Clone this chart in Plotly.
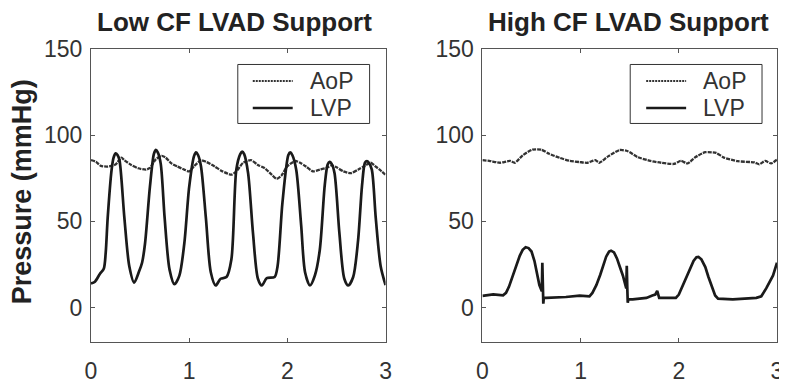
import plotly.graph_objects as go

# ---- Low CF LVAD support ----
t_low_lvp = [0.00, 0.04, 0.09, 0.13, 0.15, 0.17, 0.21, 0.23, 0.25, 0.27, 0.29, 0.34, 0.39, 0.44,
             0.49, 0.52, 0.55, 0.60, 0.64, 0.66, 0.68, 0.71, 0.75, 0.80, 0.85,
             0.90, 0.95, 1.00, 1.05, 1.07, 1.09, 1.12, 1.17, 1.22, 1.27,
             1.32, 1.38, 1.43, 1.48, 1.52, 1.54, 1.56, 1.60, 1.65, 1.70, 1.74,
             1.79, 1.87, 1.90, 1.95, 2.01, 2.03, 2.05, 2.09, 2.14, 2.18, 2.23,
             2.28, 2.33, 2.38, 2.41, 2.43, 2.45, 2.48, 2.53, 2.58, 2.62,
             2.67, 2.72, 2.76, 2.79, 2.81, 2.83, 2.86, 2.90, 2.95, 3.00]
p_low_lvp = [14, 15, 19.5, 22.5, 32, 52, 80, 87, 89.5, 88.5, 85.5, 52, 24, 14.5,
             21, 26, 37, 70, 89, 91.5, 90, 83.5, 52, 22, 13.5,
             18.5, 37, 70, 88, 90, 88.5, 82, 52, 20.5, 12.8,
             16.7, 17.7, 28, 80, 89, 90.5, 89, 78, 43, 16.7, 12.8,
             17, 17.7, 24, 61, 88.5, 90, 88.5, 80, 48, 20.5, 12.8,
             18.6, 33.4, 70.6, 83, 84.5, 83.5, 78, 43, 16.7, 12.8,
             17.7, 39, 70.6, 84, 85, 84, 80, 52, 24, 13]

t_low_aop = [0.00, 0.05, 0.10, 0.17, 0.25, 0.31, 0.34, 0.41, 0.48, 0.56, 0.60, 0.66, 0.72,
             0.76, 0.82, 0.88, 0.95, 1.00, 1.05, 1.12, 1.17, 1.26, 1.34, 1.43, 1.48,
             1.55, 1.63, 1.70, 1.77, 1.84, 1.89, 1.94, 2.00, 2.08, 2.13, 2.19, 2.26,
             2.33, 2.40, 2.45, 2.50, 2.57, 2.65, 2.72, 2.78, 2.85, 2.89, 2.94, 3.00]
p_low_aop = [85.5, 84.6, 82.2, 81.8, 83, 87, 85.5, 82.7, 80.8, 80, 81, 86, 88,
             87, 83.6, 81.8, 80, 79, 82, 85.5, 84.6, 81.8, 79, 77.1, 79,
             84, 85.5, 82.7, 80.8, 77.1, 74.7, 76.6, 82, 85, 84, 81.8, 79,
             80, 81, 82.5, 81.4, 79, 78, 80, 82, 84, 82.2, 80, 77]

# ---- High CF LVAD support ----
t_high_lvp = [0.00, 0.11, 0.21, 0.24, 0.27, 0.30, 0.35, 0.38, 0.41, 0.44, 0.47, 0.50, 0.53,
              0.56, 0.58, 0.605, 0.610, 0.615, 0.620, 0.625, 0.65, 0.85, 0.99, 1.09, 1.12,
              1.16, 1.20, 1.23, 1.26, 1.29, 1.31, 1.34, 1.37, 1.40, 1.43, 1.465, 1.470,
              1.475, 1.480, 1.485, 1.53, 1.67, 1.73, 1.76, 1.78, 1.79, 1.80, 1.87, 1.97,
              2.00, 2.04, 2.08, 2.11, 2.15, 2.18, 2.20, 2.23, 2.27, 2.30, 2.33, 2.37, 2.40,
              2.55, 2.79, 2.84, 2.89, 2.96, 3.00]
p_high_lvp = [6.8, 7.6, 7.1, 8.5, 12, 17, 24.2, 30, 33.5, 35, 34.5, 32.5, 27,
              19, 13, 9.5, 26, 14, 2.2, 5.6, 5.6, 6.1, 6.9, 6.5, 8.5,
              13, 19, 24.2, 29.5, 32.5, 33, 32, 28.5, 23.5, 18.6, 11.1, 24.2,
              12, 2.8, 4.7, 4.7, 5.6, 7.0, 7.5, 9.7, 6.5, 5.6, 5.6, 5.6,
              7.5, 13, 18, 22.3, 27, 29.2, 29.4, 28, 23.5, 18, 13, 7, 5.2,
              4.7, 5.6, 6.5, 11.1, 18.6, 26]

t_high_aop = [0.00, 0.07, 0.18, 0.28, 0.33, 0.41, 0.51, 0.60, 0.68, 0.79, 0.89, 0.99, 1.07,
              1.15, 1.19, 1.28, 1.40, 1.48, 1.58, 1.71, 1.82, 1.95, 2.02, 2.09, 2.17,
              2.27, 2.38, 2.46, 2.60, 2.77, 2.82, 2.88, 2.94, 3.00]
p_high_aop = [85.5, 85.1, 84, 85.1, 84, 88.3, 91.6, 91.6, 89.2, 86.8, 85.1, 84.4, 84,
              85.5, 84, 87.7, 91.4, 90.7, 87.3, 85.1, 84, 83.3, 85.1, 83.6, 87.3,
              90.1, 89.7, 87, 84.9, 84.2, 83.1, 85.1, 83.6, 85.8]

titles = ["Low CF LVAD Support", "High CF LVAD Support"]
series_names = ["AoP", "LVP"]
y_title = "Pressure (mmHg)"
x_ticks = [0, 1, 2, 3]
y_ticks = [0, 50, 100, 150]

FONT = "Liberation Sans, Arial, sans-serif"
AOP_COLOR = "#333333"
LVP_COLOR = "#1a1a1a"
AOP_DASH = "4px,1px"

W, H = 787, 388
ML, MR, MT, MB = 83, 17, 41, 44
PW, PH = W - ML - MR, H - MT - MB


def px(X):
    return (X - ML) / PW


def py(Y):
    return (H - MB - Y) / PH


fig = go.Figure()

panels = [
    (t_low_aop, p_low_aop, t_low_lvp, p_low_lvp, "x", "y"),
    (t_high_aop, p_high_aop, t_high_lvp, p_high_lvp, "x2", "y2"),
]
for ta, pa, tl, pl, xa, ya in panels:
    fig.add_trace(go.Scatter(x=ta, y=pa, mode="lines", name=series_names[0], xaxis=xa, yaxis=ya,
                             showlegend=False,
                             line=dict(color=AOP_COLOR, width=2.3, dash=AOP_DASH,
                                       shape="spline", smoothing=0.6)))
    fig.add_trace(go.Scatter(x=tl, y=pl, mode="lines", name=series_names[1], xaxis=xa, yaxis=ya,
                             showlegend=False,
                             line=dict(color=LVP_COLOR, width=2.7,
                                       shape="spline" if xa == "x" else "linear",
                                       smoothing=0.8)))

axis_common = dict(showline=True, linecolor="#555555", linewidth=1, mirror="ticks",
                   ticks="inside", ticklen=4, tickcolor="#555555", showgrid=False,
                   zeroline=False, tickfont=dict(family=FONT, size=23, color="#333333"))

fig.update_layout(
    width=W, height=H,
    margin=dict(l=ML, r=MR, t=MT, b=MB),
    plot_bgcolor="white", paper_bgcolor="white",
    xaxis=dict(domain=[0, 0.4294], range=[0, 3], tickvals=x_ticks, anchor="y",
               ticklabelstandoff=8, **axis_common),
    xaxis2=dict(domain=[0.5706, 1], range=[0, 3], tickvals=x_ticks, anchor="y2",
                ticklabelstandoff=8, **axis_common),
    yaxis=dict(range=[-20, 150], tickvals=y_ticks, anchor="x", ticklabelstandoff=3,
               **axis_common),
    yaxis2=dict(range=[-20, 150], tickvals=y_ticks, anchor="x2", ticklabelstandoff=3,
                **axis_common),
    showlegend=False,
)

# legends drawn as boxes (layout pixel geometry)
legend_geo = [
    # box x0, x1, line x0, x1, text x
    (230, 362, 245, 285, 300),
    (623, 755, 639, 679, 694),
]
for bx0, bx1, lx0, lx1, tx in legend_geo:
    fig.add_shape(type="rect", xref="paper", yref="paper", x0=px(bx0), x1=px(bx1),
                  y0=py(118), y1=py(57), line=dict(color="#333333", width=1),
                  fillcolor="white", layer="above")
    fig.add_shape(type="line", xref="paper", yref="paper", x0=px(lx0), x1=px(lx1),
                  y0=py(74), y1=py(74), line=dict(color=AOP_COLOR, width=2, dash="2px,1px"),
                  layer="above")
    fig.add_shape(type="line", xref="paper", yref="paper", x0=px(lx0), x1=px(lx1),
                  y0=py(102), y1=py(102), line=dict(color=LVP_COLOR, width=2.6),
                  layer="above")
    for name, yy in zip(series_names, [74, 102]):
        fig.add_annotation(text=name, xref="paper", yref="paper", x=px(tx), y=py(yy),
                           xanchor="left", yanchor="middle", showarrow=False,
                           font=dict(family=FONT, size=23, color="#333333"))

fig.add_annotation(text="<b>" + titles[0] + "</b>", xref="paper", yref="paper",
                   x=px(227), y=py(13), xanchor="center", yanchor="middle", showarrow=False,
                   font=dict(family=FONT, size=26, color="#222222"))
fig.add_annotation(text="<b>" + titles[1] + "</b>", xref="paper", yref="paper",
                   x=px(621), y=py(13), xanchor="center", yanchor="middle", showarrow=False,
                   font=dict(family=FONT, size=26, color="#222222"))
fig.add_annotation(text="<b>" + y_title + "</b>", xref="paper", yref="paper",
                   x=px(14), y=py(189), xanchor="center", yanchor="middle", showarrow=False,
                   textangle=-90, font=dict(family=FONT, size=27, color="#222222"))

fig.write_html("out.html")
